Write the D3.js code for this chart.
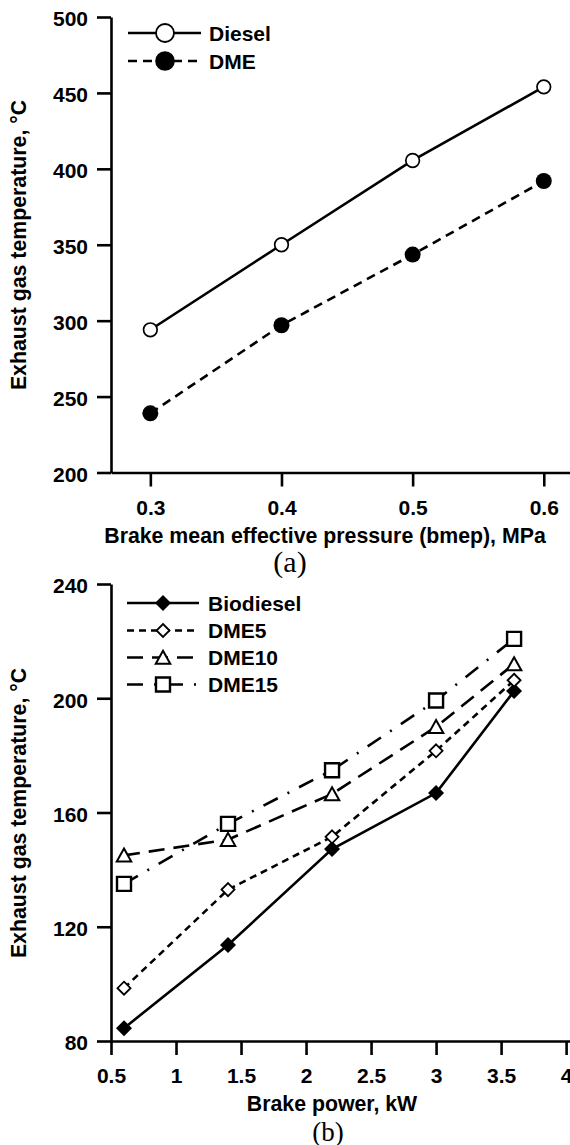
<!DOCTYPE html>
<html><head><meta charset="utf-8">
<script src="https://cdn.jsdelivr.net/npm/d3@7"></script>
<style>
body{margin:0;background:#fff}
svg{display:block;font-family:"Liberation Sans",Arial,sans-serif;font-weight:bold}
</style>
</head><body>
<svg id="c" width="570" height="1145"></svg>
<script>
// ---- Data: panel (a)
const bmep = [0.3, 0.4, 0.5, 0.6];
const diesel = [294, 350, 405.5, 454];
const dmeA = [239, 297, 343.5, 392];
const bmepTicks = [0.3, 0.4, 0.5, 0.6];
const tempTicksA = [200, 250, 300, 350, 400, 450, 500];
const seriesNamesA = ["Diesel", "DME"];

// ---- Data: panel (b)
const power = [0.6, 1.4, 2.2, 3.0, 3.6];
const biodiesel = [84.5, 113.6, 147.2, 166.8, 202.5];
const dme5 = [98.5, 133, 151.5, 181.6, 206.3];
const dme10 = [145, 150.5, 166.5, 190, 212];
const dme15 = [135, 156, 174.8, 199.2, 220.8];
const powerTicks = [0.5, 1, 1.5, 2, 2.5, 3, 3.5, 4];
const tempTicksB = [80, 120, 160, 200, 240];
const seriesNamesB = ["Biodiesel", "DME5", "DME10", "DME15"];

const svg = d3.select("#c");
const FS = 21;
const TFS = 21.3;
const SANS = '"Liberation Sans",Arial,sans-serif';
const SERIF = '"Liberation Serif","Times New Roman",serif';

function styleAxis(g){
  g.selectAll("path.domain").attr("stroke","#000").attr("stroke-width",2.6);
  g.selectAll(".tick line").attr("stroke","#000").attr("stroke-width",2.6);
  g.selectAll(".tick text").attr("font-size",FS).attr("fill","#000")
   .style("font-family",SANS).style("font-weight","bold");
}
function label(g, txt, fs){
  return g.append("text").attr("font-size",fs||FS).attr("fill","#000")
    .style("font-family",SANS).style("font-weight","bold").text(txt);
}

// marker paths
const diamondPath = h => `M0,${-h}L${h},0L0,${h}L${-h},0Z`;
const squarePath = s => `M${-s/2},${-s/2}H${s/2}V${s/2}H${-s/2}Z`;
const trianglePath = (w,h) => `M0,${-h/2-0.5}L${w/2},${h/2}L${-w/2},${h/2}Z`;

// ================= Panel (a) =================
const xA = d3.scaleLinear().domain([0.27, 0.62]).range([111, 570]);
const yA = d3.scaleLinear().domain([200, 500]).range([472.5, 17]);

const gA = svg.append("g");
const axYA = gA.append("g").attr("transform","translate(111,0)")
  .call(d3.axisLeft(yA).tickValues(tempTicksA).tickSize(14).tickSizeOuter(0).tickPadding(9).tickFormat(d3.format("d")));
styleAxis(axYA);
axYA.selectAll(".tick text").attr("dy","0.42em");
const axXA = gA.append("g").attr("transform","translate(0,472.5)")
  .call(d3.axisBottom(xA).tickValues(bmepTicks).tickSize(14).tickSizeOuter(0).tickPadding(14).tickFormat(d3.format(".1f")));
styleAxis(axXA);

const lineA = d3.line().x(d=>xA(d[0])).y(d=>yA(d[1]));
const dieselPts = bmep.map((x,i)=>[x,diesel[i]]);
const dmePts = bmep.map((x,i)=>[x,dmeA[i]]);
gA.append("path").attr("d",lineA(dieselPts)).attr("fill","none").attr("stroke","#000").attr("stroke-width",2.6);
gA.append("path").attr("d",lineA(dmePts)).attr("fill","none").attr("stroke","#000").attr("stroke-width",2.6).attr("stroke-dasharray","9,6");
gA.selectAll("circle.dz").data(dieselPts).join("circle").attr("cx",d=>xA(d[0])).attr("cy",d=>yA(d[1])).attr("r",6.8)
  .attr("fill","#fff").attr("stroke","#000").attr("stroke-width",1.7);
gA.selectAll("circle.dm").data(dmePts).join("circle").attr("cx",d=>xA(d[0])).attr("cy",d=>yA(d[1])).attr("r",8)
  .attr("fill","#000");

// legend (a)
const legA = gA.append("g");
[[33,null,"open"],[61,"9,6","filled"]].forEach((r,i)=>{
  legA.append("line").attr("x1",128).attr("x2",201).attr("y1",r[0]).attr("y2",r[0]).attr("stroke","#000").attr("stroke-width",2.6).attr("stroke-dasharray",r[1]);
  if(r[2]==="open") legA.append("circle").attr("cx",165).attr("cy",r[0]).attr("r",9).attr("fill","#fff").attr("stroke","#000").attr("stroke-width",1.8);
  else legA.append("circle").attr("cx",165).attr("cy",r[0]).attr("r",9.8).attr("fill","#000");
  label(legA, seriesNamesA[i]).attr("x",209).attr("y",r[0]).attr("dy","0.36em");
});

label(gA, "Brake mean effective pressure (bmep), MPa", TFS).attr("x",325).attr("y",543).attr("text-anchor","middle");
label(gA, "Exhaust gas temperature, °C", TFS).attr("transform","translate(26,245) rotate(-90)").attr("text-anchor","middle");
gA.append("text").attr("x",290).attr("y",572).attr("text-anchor","middle").attr("font-size",30)
  .style("font-family",SERIF).style("font-weight","normal").text("(a)");

// ================= Panel (b) =================
const xB = d3.scaleLinear().domain([0.5, 4.03]).range([111, 570]);
const yB = d3.scaleLinear().domain([80, 240]).range([1041, 584]);

const gB = svg.append("g");
const axYB = gB.append("g").attr("transform","translate(111,0)")
  .call(d3.axisLeft(yB).tickValues(tempTicksB).tickSize(14).tickSizeOuter(0).tickPadding(9).tickFormat(d3.format("d")));
styleAxis(axYB);
axYB.selectAll(".tick text").attr("dy","0.42em");
const axXB = gB.append("g").attr("transform","translate(0,1041)")
  .call(d3.axisBottom(xB).tickValues(powerTicks).tickSize(14).tickSizeOuter(0).tickPadding(13).tickFormat(d=>String(d)));
styleAxis(axXB);

const lineB = d3.line().x(d=>xB(d[0])).y(d=>yB(d[1]));
const seriesB = [
  {vals: biodiesel, dash: null, marker: "fdiamond"},
  {vals: dme5, dash: "7,5", marker: "odiamond"},
  {vals: dme10, dash: "16,9", marker: "triangle"},
  {vals: dme15, dash: "16,11,2,11", marker: "square"}
];
function drawMarker(g, type, x, y){
  if(type==="fdiamond") g.append("path").attr("d",diamondPath(8)).attr("transform",`translate(${x},${y})`).attr("fill","#000");
  if(type==="odiamond") g.append("path").attr("d",diamondPath(6.5)).attr("transform",`translate(${x},${y})`).attr("fill","#fff").attr("stroke","#000").attr("stroke-width",1.8);
  if(type==="triangle") g.append("path").attr("d",trianglePath(14.5,12.5)).attr("transform",`translate(${x},${y})`).attr("fill","#fff").attr("stroke","#000").attr("stroke-width",2);
  if(type==="square") g.append("path").attr("d",squarePath(14)).attr("transform",`translate(${x},${y})`).attr("fill","#fff").attr("stroke","#000").attr("stroke-width",2.4);
}
seriesB.forEach(s=>{
  const pts = power.map((x,i)=>[x,s.vals[i]]);
  gB.append("path").attr("d",lineB(pts)).attr("fill","none").attr("stroke","#000").attr("stroke-width",2.6).attr("stroke-dasharray",s.dash);
});
seriesB.forEach(s=>{
  power.forEach((x,i)=>drawMarker(gB, s.marker, xB(x), yB(s.vals[i])));
});

// legend (b)
const legYs = [603, 630.5, 657.5, 684.5];
seriesB.forEach((s,i)=>{
  const y = legYs[i];
  gB.append("line").attr("x1",127).attr("x2",199).attr("y1",y).attr("y2",y).attr("stroke","#000").attr("stroke-width",2.6).attr("stroke-dasharray",s.dash);
  drawMarker(gB, s.marker, 163, y);
  label(gB, seriesNamesB[i]).attr("x",208).attr("y",y).attr("dy","0.36em");
});

label(gB, "Brake power, kW", TFS).attr("x",332).attr("y",1111).attr("text-anchor","middle");
label(gB, "Exhaust gas temperature, °C", TFS).attr("transform","translate(26,813) rotate(-90)").attr("text-anchor","middle");
gB.append("text").attr("x",328).attr("y",1141).attr("text-anchor","middle").attr("font-size",27)
  .style("font-family",SERIF).style("font-weight","normal").text("(b)");
</script>
</body></html>
